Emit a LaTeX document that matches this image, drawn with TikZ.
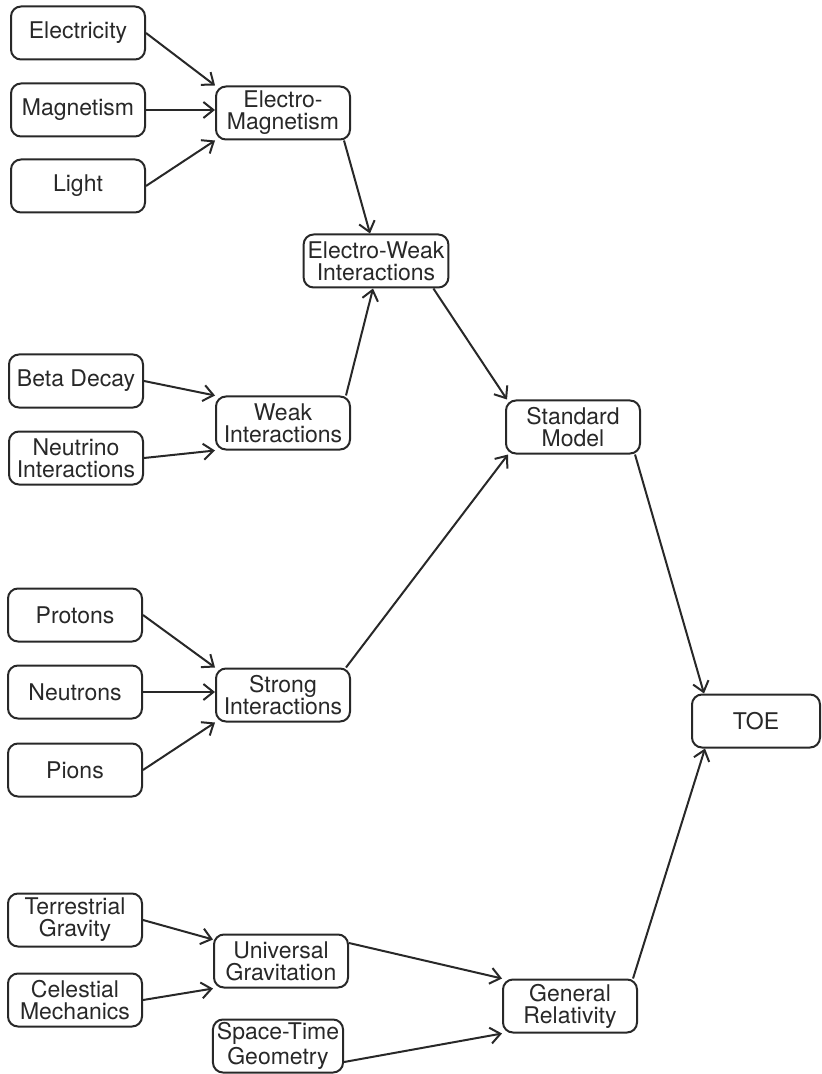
\documentclass[tikz,border=0pt]{standalone}
\usepackage{fontspec}
\setmainfont{TeX Gyre Heros}
\usetikzlibrary{arrows.meta}
\definecolor{LineGrey}{RGB}{40,40,40}

\begin{document}
\begin{tikzpicture}[x=0.5pt, y=-0.5pt,
    concept/.style={draw=LineGrey, line width=1pt, rounded corners=5pt, align=center,
      minimum width=67pt, minimum height=26.5pt, inner xsep=2pt, inner ysep=1pt,
      font=\fontsize{11.5}{11}\selectfont, text=LineGrey},
    link/.style={draw=LineGrey, line width=1pt, -{Straight Barb[length=5pt, width=8pt]}}]
      \useasboundingbox (0,0) rectangle (821,1074);

      % Electromagnetism
      \node[concept] (elec) at (78,33) {Electricity};
      \node[concept] (magn) at (78,110) {Magnetism};
      \node[concept] (light) at (78,186) {Light};
      \node[concept] (em) at (283,113) {Electro-\\Magnetism};
      \node[concept, minimum width=0pt] (ew) at (376,261) {Electro-Weak\\Interactions};

      % Weak force
      \node[concept] (beta) at (76,381) {Beta Decay};
      \node[concept] (neut) at (76,458) {Neutrino\\Interactions};
      \node[concept] (weak) at (283,423) {Weak\\Interactions};
      \node[concept] (sm) at (573,427) {Standard\\Model};

      % Strong force
      \node[concept] (prot) at (75,615) {Protons};
      \node[concept] (neutr) at (75,692) {Neutrons};
      \node[concept] (pion) at (75,770) {Pions};
      \node[concept] (strong) at (283,695) {Strong\\Interactions};
      \node[concept, minimum width=64pt] (toe) at (756,721) {TOE};

      % Gravity
      \node[concept] (terr) at (75,920) {Terrestrial\\Gravity};
      \node[concept] (cel) at (75,1000) {Celestial\\Mechanics};
      \node[concept] (univ) at (281,961) {Universal\\Gravitation};
      \node[concept, minimum width=64pt] (spt) at (278,1046) {Space-Time\\Geometry};
      \node[concept] (gr) at (570,1006) {General\\Relativity};

      % Links
      \draw[link] (elec.east) -- (em.north west);
      \draw[link] (magn.east) -- (magn.east -| em.west);
      \draw[link] (light.east) -- (em.south west);
      \draw[link] ([xshift=-3.5pt]em.south east) -- ([xshift=-3pt]ew.north);
      \draw[link] (beta.east) -- (weak.north west);
      \draw[link] (neut.east) -- (weak.south west);
      \draw[link] ([xshift=-2.5pt]weak.north east) -- ([xshift=-1.5pt]ew.south);
      \draw[link] ([xshift=-8pt]ew.south east) -- ([xshift=1pt]sm.north west);
      \draw[link] (prot.east) -- (strong.north west);
      \draw[link] (neutr.east) -- (neutr.east -| strong.west);
      \draw[link] (pion.east) -- (strong.south west);
      \draw[link] ([xshift=-2.5pt]strong.north east) -- ([xshift=1.5pt]sm.south west);
      \draw[link] ([xshift=-3pt]sm.south east) -- ([xshift=6.5pt]toe.north west);
      \draw[link] (terr.east) -- ([yshift=-3pt]univ.north west);
      \draw[link] (cel.east) -- (univ.south west);
      \draw[link] ([yshift=9pt]univ.east) -- (gr.north west);
      \draw[link] ([yshift=-8pt]spt.east) -- (gr.south west);
      \draw[link] ([xshift=-2.5pt]gr.north east) -- ([xshift=7pt]toe.south west);
    \end{tikzpicture}
\end{document}
